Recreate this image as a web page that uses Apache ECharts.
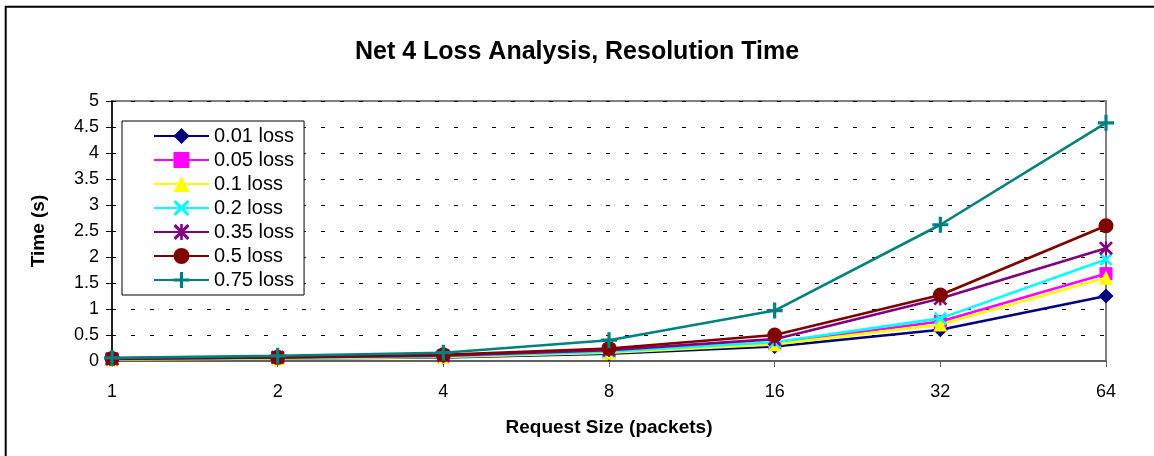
<!DOCTYPE html>
<html>
<head>
<meta charset="utf-8">
<title>Net 4 Loss Analysis, Resolution Time</title>
<script src="https://cdn.jsdelivr.net/npm/echarts@6/dist/echarts.min.js"></script>
<style>
  html, body { margin: 0; padding: 0; background: #fff; }
  #chart { width: 1154px; height: 456px; }
</style>
</head>
<body>
<div id="chart"></div>
<script>
// Request sizes (packets) on the x axis
const requestSizes = ['1', '2', '4', '8', '16', '32', '64'];

// Resolution time (s) for each loss rate
const loss001 = [0.04, 0.05, 0.07, 0.14, 0.28, 0.60, 1.25];
const loss005 = [0.04, 0.06, 0.09, 0.17, 0.34, 0.76, 1.68];
const loss010 = [0.03, 0.05, 0.08, 0.16, 0.32, 0.70, 1.60];
const loss020 = [0.04, 0.06, 0.09, 0.18, 0.36, 0.82, 1.95];
const loss035 = [0.04, 0.07, 0.10, 0.21, 0.42, 1.20, 2.17];
const loss050 = [0.05, 0.07, 0.12, 0.24, 0.50, 1.27, 2.60];
const loss075 = [0.06, 0.10, 0.16, 0.40, 0.97, 2.62, 4.58];

const seriesNames = ['0.01 loss', '0.05 loss', '0.1 loss', '0.2 loss', '0.35 loss', '0.5 loss', '0.75 loss'];

// Marker shapes
const crossX = 'path://M0,1.4L1.4,0L10,8.6L8.6,10Z M8.6,0L10,1.4L1.4,10L0,8.6Z';
const asterisk = 'path://M0,1.4L1.4,0L10,8.6L8.6,10Z M8.6,0L10,1.4L1.4,10L0,8.6Z M4.2,0L5.8,0L5.8,10L4.2,10Z';
const plus = 'path://M4,0L6,0L6,10L4,10Z M0,4L10,4L10,6L0,6Z';

const styles = [
  { data: loss001, color: '#000080', symbol: 'diamond', size: 15 },
  { data: loss005, color: '#FF00FF', symbol: 'rect', size: 13 },
  { data: loss010, color: '#FFFF00', symbol: 'triangle', size: 14 },
  { data: loss020, color: '#00FFFF', symbol: crossX, size: 13 },
  { data: loss035, color: '#800080', symbol: asterisk, size: 14 },
  { data: loss050, color: '#800000', symbol: 'circle', size: 15 },
  { data: loss075, color: '#008080', symbol: plus, size: 16 }
];

const FONT = 'Liberation Sans, Arial, sans-serif';

const series = styles.map((s, i) => ({
  name: seriesNames[i],
  type: 'line',
  data: s.data,
  symbol: s.symbol,
  symbolSize: s.size,
  showAllSymbol: true,
  animation: false,
  lineStyle: { color: s.color, width: 2.6 },
  itemStyle: { color: s.color, borderWidth: 0 },
  emphasis: { disabled: true },
  z: 3 + i
}));

const chart = echarts.init(document.getElementById('chart'), null, { renderer: 'canvas' });
chart.setOption({
  backgroundColor: '#fff',
  animation: false,
  title: {
    text: 'Net 4 Loss Analysis, Resolution Time',
    left: 'center',
    top: 35,
    textStyle: { fontFamily: FONT, fontSize: 25, fontWeight: 'bold', color: '#000' }
  },
  graphic: [{
    type: 'rect',
    shape: { x: 5.7, y: 6.7, width: 1200, height: 500 },
    style: { fill: 'none', stroke: '#000', lineWidth: 2 },
    silent: true,
    z: 100
  }],
  legend: {
    orient: 'vertical',
    left: 122,
    top: 121,
    padding: [5, 10, 5, 31],
    backgroundColor: '#fff',
    borderColor: '#000',
    borderWidth: 1,
    itemWidth: 55,
    itemHeight: 20,
    itemGap: 4,
    textStyle: { fontFamily: FONT, fontSize: 20, color: '#000', lineHeight: 20 },
    data: seriesNames
  },
  grid: {
    left: 112,
    top: 101,
    right: 48,
    bottom: 95,
    show: true,
    borderColor: '#808080',
    borderWidth: 2,
    backgroundColor: '#fff'
  },
  xAxis: {
    type: 'category',
    data: requestSizes,
    boundaryGap: false,
    name: 'Request Size (packets)',
    nameLocation: 'middle',
    nameGap: 57,
    nameTextStyle: { fontFamily: FONT, fontSize: 19, fontWeight: 'bold', color: '#000' },
    axisLine: { lineStyle: { color: '#606060', width: 2 } },
    axisTick: { show: true, length: 6, lineStyle: { color: '#606060', width: 1 } },
    axisLabel: { fontFamily: FONT, fontSize: 18, color: '#000', margin: 22 },
    splitLine: { show: false }
  },
  yAxis: {
    type: 'value',
    min: 0,
    max: 5,
    interval: 0.5,
    name: 'Time (s)',
    nameLocation: 'middle',
    nameGap: 64,
    nameRotate: 90,
    nameTextStyle: { fontFamily: FONT, fontSize: 19, fontWeight: 'bold', color: '#000' },
    axisLine: { show: true, lineStyle: { color: '#000', width: 1.5 } },
    axisTick: { show: true, length: 6, lineStyle: { color: '#000', width: 1 } },
    axisLabel: { fontFamily: FONT, fontSize: 18, color: '#000', margin: 13 },
    splitLine: { show: true, lineStyle: { color: '#000', width: 1, type: [4, 15] } }
  },
  series: series
});
</script>
</body>
</html>
